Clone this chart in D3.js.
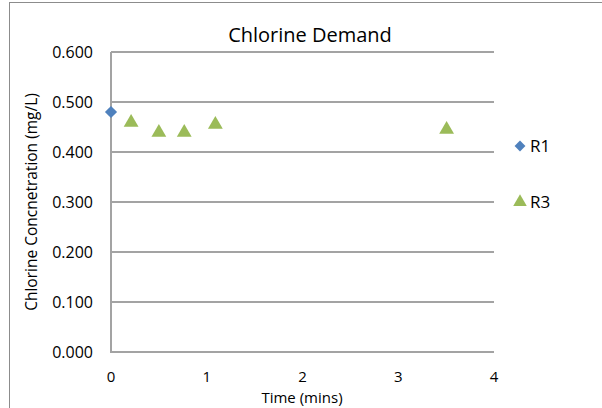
<!DOCTYPE html>
<html>
<head>
<meta charset="utf-8">
<script src="https://cdn.jsdelivr.net/npm/d3@7"></script>
<style>
  body { margin: 0; background: #fff; }
  svg text { font-family: "Open Sans", "Liberation Sans", sans-serif; fill: #000; }
</style>
</head>
<body>
<div id="chart"></div>
<script>
'use strict';

// Series data
var r1Time  = [0];
var r1Conc  = [0.48];
var r3Time  = [0.21, 0.50, 0.765, 1.09, 3.505];
var r3Conc  = [0.459, 0.439, 0.439, 0.455, 0.445];

var xTicks  = [0, 1, 2, 3, 4];
var yTicks  = [0, 0.1, 0.2, 0.3, 0.4, 0.5, 0.6];
var seriesNames = ['R1', 'R3'];

var width = 602, height = 408;
var plot = { left: 111, right: 494, top: 52, bottom: 352 };

var svg = d3.select('#chart').append('svg')
  .attr('width', width)
  .attr('height', height);

// outer chart border
svg.append('rect')
  .attr('x', 9.5).attr('y', 2.5)
  .attr('width', 620).attr('height', 420)
  .style('fill', 'none')
  .style('stroke', '#8c8c8c')
  .style('stroke-width', 1);

var x = d3.scaleLinear().domain([0, 4]).range([plot.left, plot.right]);
var y = d3.scaleLinear().domain([0, 0.6]).range([plot.bottom, plot.top]);

// horizontal gridlines
svg.append('g').selectAll('line')
  .data(yTicks).enter().append('line')
  .attr('x1', plot.left).attr('x2', plot.right)
  .attr('y1', function(d) { return y(d); })
  .attr('y2', function(d) { return y(d); })
  .style('stroke', '#a3a3a3')
  .style('stroke-width', 2);

// y axis line
svg.append('line')
  .attr('x1', plot.left).attr('x2', plot.left)
  .attr('y1', plot.top).attr('y2', plot.bottom + 1)
  .style('stroke', '#a3a3a3')
  .style('stroke-width', 2);

// y tick labels
svg.append('g').selectAll('text')
  .data(yTicks).enter().append('text')
  .attr('x', 93)
  .attr('y', function(d) { return y(d); })
  .attr('dy', '0.35em')
  .attr('text-anchor', 'end')
  .style('font-size', '16px')
  .text(function(d) { return d3.format('.3f')(d); });

// x tick labels
svg.append('g').selectAll('text')
  .data(xTicks).enter().append('text')
  .attr('x', function(d) { return x(d); })
  .attr('y', 377)
  .attr('dy', '0.35em')
  .attr('text-anchor', 'middle')
  .style('font-size', '15px')
  .text(function(d) { return d; });

// titles
svg.append('text')
  .attr('x', 310).attr('y', 35).attr('dy', '0.35em')
  .attr('text-anchor', 'middle')
  .style('font-size', '20px')
  .text('Chlorine Demand');

svg.append('text')
  .attr('x', 302).attr('y', 398).attr('dy', '0.35em')
  .attr('text-anchor', 'middle')
  .style('font-size', '15px')
  .text('Time (mins)');

svg.append('text')
  .attr('transform', 'translate(32,202) rotate(-90)')
  .attr('dy', '0.35em')
  .attr('text-anchor', 'middle')
  .style('font-size', '15.5px')
  .text('Chlorine Concnetration (mg/L)');

var diamond  = d3.symbol().type(d3.symbolDiamond2).size(95);
var triangle = d3.symbol().type(d3.symbolTriangle).size(95);

// R1 points
svg.append('g').selectAll('path')
  .data(d3.zip(r1Time, r1Conc)).enter().append('path')
  .attr('d', diamond)
  .attr('transform', function(d) { return 'translate(' + x(d[0]) + ',' + y(d[1]) + ')'; })
  .style('fill', '#4f81bd');

// R3 points
svg.append('g').selectAll('path')
  .data(d3.zip(r3Time, r3Conc)).enter().append('path')
  .attr('d', triangle)
  .attr('transform', function(d) { return 'translate(' + x(d[0]) + ',' + y(d[1]) + ')'; })
  .style('fill', '#9bbb59');

// legend
var legend = svg.append('g').selectAll('g')
  .data(seriesNames).enter().append('g')
  .attr('transform', function(d, i) { return 'translate(520,' + (146 + i * 56) + ')'; });

legend.append('path')
  .attr('d', function(d, i) { return i === 0 ? d3.symbol().type(d3.symbolDiamond2).size(75)() : d3.symbol().type(d3.symbolTriangle).size(80)(); })
  .style('fill', function(d, i) { return i === 0 ? '#4f81bd' : '#9bbb59'; });

legend.append('text')
  .attr('x', 10).attr('dy', '0.35em')
  .style('font-size', '17px')
  .text(function(d) { return d; });
</script>
</body>
</html>
